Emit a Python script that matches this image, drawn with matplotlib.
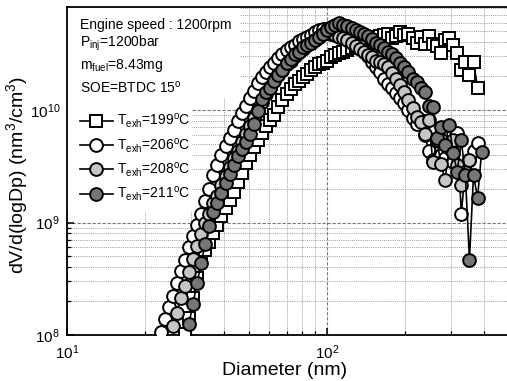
import numpy as np
import matplotlib
matplotlib.use("Agg")
import matplotlib.pyplot as plt
from matplotlib.patches import Rectangle
from matplotlib.ticker import NullFormatter

plt.rcParams["font.family"] = ["Liberation Sans", "DejaVu Sans"]
plt.rcParams["mathtext.fontset"] = "custom"
plt.rcParams["mathtext.rm"] = "Liberation Sans"
plt.rcParams["mathtext.it"] = "Liberation Sans:italic"
plt.rcParams["mathtext.bf"] = "Liberation Sans:bold"

# SMPS channel mid-point diameters (nm), 64 channels per decade
diameter_nm = [
    22.88, 23.71, 24.58, 25.48, 26.42, 27.38, 28.39, 29.43, 30.51, 31.62,
    32.78, 33.98, 35.22, 36.52, 37.86, 39.24, 40.68, 42.17, 43.71, 45.31,
    46.97, 48.70, 50.48, 52.33, 54.25, 56.23, 58.29, 60.43, 62.64, 64.94,
    67.32, 69.78, 72.34, 74.99, 77.74, 80.58, 83.54, 86.60, 89.77, 93.06,
    96.47, 100.0, 103.7, 107.5, 111.4, 115.5, 119.7, 124.1, 128.6, 133.4,
    138.2, 143.3, 148.6, 154.0, 159.6, 165.5, 171.5, 177.8, 184.3, 191.1,
    198.1, 205.4, 212.9, 220.7, 228.8, 237.1, 245.8, 254.8, 264.2, 273.8,
    283.9, 294.3, 305.1, 316.2, 327.8, 339.8, 352.3, 365.2, 378.6, 392.4,
]

# log10 of dV/d(logDp) [nm^3/cm^3] for each exhaust temperature
log_dv_199 = [
    8.01, 8.15, 8.33, 8.51, 8.67, 8.76, 8.83, 8.91, 8.98, 9.06,
    9.13, 9.20, 9.27, 9.36, 9.44, 9.53, 9.60, 9.67, 9.73, 9.80,
    9.86, 9.91, 9.96, 10.03, 10.09, 10.14, 10.19, 10.23, 10.26, 10.29,
    10.32, 10.36, 10.38, 10.41, 10.42, 10.44, 10.47, 10.49, 10.51, 10.52,
    10.53, 10.55, 10.57, 10.59, 10.60, 10.62, 10.64, 10.65, 10.66, 10.67,
    10.68, 10.64, 10.66, 10.69, 10.67, 10.68, 10.64, 10.60, 10.65, 10.59,
    10.66, 10.59, 10.57, 10.51, 10.62, 10.64, 10.58, 10.51, 10.36, 10.43,
    10.31, 10.43, 10.20,
]
log_dv_206 = [
    8.03, 8.14, 8.25, 8.35, 8.46, 8.57, 8.67, 8.78, 8.88, 8.98,
    9.08, 9.19, 9.30, 9.42, 9.51, 9.60, 9.68, 9.75, 9.82, 9.90,
    9.97, 10.04, 10.11, 10.17, 10.24, 10.29, 10.34, 10.38, 10.42, 10.46,
    10.50, 10.53, 10.56, 10.58, 10.61, 10.63, 10.65, 10.67, 10.69, 10.71,
    10.72, 10.72, 10.73, 10.73, 10.73, 10.72, 10.70, 10.67, 10.62, 10.58,
    10.53, 10.48, 10.43, 10.38, 10.34, 10.28, 10.23, 10.20, 10.15, 10.11,
    10.06, 10.00, 9.93, 9.88, 9.91, 9.78, 9.64, 9.56, 9.73, 9.60,
    9.57, 9.82, 9.54, 9.80, 9.08, 9.47, 9.56, 9.64, 9.71,
]
log_dv_208 = [
    8.08, 8.20, 8.33, 8.44, 8.56, 8.68, 8.79, 8.90, 9.00, 9.08,
    9.17, 9.24, 9.33, 9.41, 9.49, 9.57, 9.64, 9.72, 9.79, 9.86,
    9.93, 10.00, 10.07, 10.14, 10.20, 10.27, 10.32, 10.36, 10.41, 10.44,
    10.48, 10.52, 10.54, 10.58, 10.60, 10.62, 10.65, 10.68, 10.69, 10.68,
    10.67, 10.65, 10.64, 10.62, 10.60, 10.57, 10.54, 10.52, 10.49, 10.47,
    10.44, 10.43, 10.41, 10.38, 10.33, 10.28, 10.22, 10.16, 10.09, 10.02,
    9.94, 9.89, 9.79, 9.91, 9.54, 9.73, 9.52, 9.38, 9.66, 9.73,
    9.51, 9.33, 9.45, 9.56,
]
log_dv_211 = [
    8.10, 8.28, 8.46, 8.64, 8.81, 8.97, 9.09, 9.17, 9.26, 9.35,
    9.43, 9.51, 9.59, 9.65, 9.72, 9.79, 9.88, 9.99, 10.10, 10.16,
    10.20, 10.26, 10.31, 10.36, 10.42, 10.45, 10.50, 10.52, 10.56, 10.58,
    10.60, 10.62, 10.65, 10.68, 10.71, 10.74, 10.76, 10.77, 10.76, 10.75,
    10.73, 10.71, 10.69, 10.68, 10.66, 10.63, 10.60, 10.58, 10.55, 10.52,
    10.50, 10.46, 10.42, 10.38, 10.34, 10.28, 10.25, 10.20, 10.16, 10.04,
    10.03, 9.75, 9.85, 9.69, 9.87, 9.62, 9.45, 9.73, 9.42, 8.67,
    9.42, 9.22, 9.63,
]

# channel range covered by each measurement
d_199 = diameter_nm[6:79]
d_206 = diameter_nm[0:79]
d_208 = diameter_nm[3:77]
d_211 = diameter_nm[7:80]

labels = [
    r"T$_{\rm exh}$=199$^{\rm o}$C",
    r"T$_{\rm exh}$=206$^{\rm o}$C",
    r"T$_{\rm exh}$=208$^{\rm o}$C",
    r"T$_{\rm exh}$=211$^{\rm o}$C",
]

W, H = 507, 381
fig = plt.figure(figsize=(W / 100, H / 100), dpi=100)
ax = fig.add_axes([67 / W, 46 / H, 442 / W, 328 / H])
ax.set_xscale("log")
ax.set_yscale("log")
ax.set_xlim(10, 500)
ax.set_ylim(1e8, 10 ** 10.916)

series = [
    (d_199, log_dv_199, "s", "white", 8.2),
    (d_206, log_dv_206, "o", "white", 9.2),
    (d_208, log_dv_208, "o", "#c6c6c6", 9.2),
    (d_211, log_dv_211, "o", "#767676", 9.2),
]
handles = []
for (d, lv, mk, fc, ms), lab in zip(series, labels):
    h, = ax.plot(d, 10 ** np.array(lv), color="black", lw=1.2, marker=mk,
                 ms=ms, mfc=fc, mec="black", mew=1.4, label=lab, zorder=3)
    handles.append(h)

# grid
ax.set_axisbelow(True)
ax.grid(True, which="major", ls=(0, (3, 1.5)), color="#7a7a7a", lw=0.8)
ax.grid(True, which="minor", ls=(0, (1, 1.2)), color="#9a9a9a", lw=0.7)

# white panels behind the annotation block and legend
ax.add_patch(Rectangle((0, 0.7226), 0.391, 0.2774, transform=ax.transAxes,
                       facecolor="white", edgecolor="none", zorder=1))
ax.add_patch(Rectangle((0, 0.375), 0.283, 0.35, transform=ax.transAxes,
                       facecolor="white", edgecolor="none", zorder=1))

# spines and ticks
for s in ("left", "bottom", "top", "right"):
    ax.spines[s].set_linewidth(1.3)
ax.tick_params(which="both", direction="in", top=False, right=False)
ax.tick_params(which="major", length=5, width=1.1, labelsize=11)
ax.tick_params(axis="x", which="major", pad=6)
ax.tick_params(axis="y", which="major", pad=5)
ax.tick_params(which="minor", length=3, width=0.9)
ax.xaxis.set_minor_formatter(NullFormatter())
ax.yaxis.set_minor_formatter(NullFormatter())

ax.set_xlabel("Diameter (nm)", fontsize=14)
ax.set_ylabel(r"dV/d(logDp) (nm$^3$/cm$^3$)", fontsize=14)
ax.xaxis.set_label_coords(0.493, -0.082)
ax.yaxis.set_label_coords(-0.084, 0.488)

# operating conditions
tx = 0.029
info = [
    (0.945, "Engine speed : 1200rpm"),
    (0.890, r"P$_{\rm inj}$=1200bar"),
    (0.823, r"m$_{\rm fuel}$=8.43mg"),
    (0.753, r"SOE=BTDC 15$^{\rm o}$"),
]
for y, t in info:
    ax.text(tx, y, t, transform=ax.transAxes, fontsize=10, va="center",
            ha="left", zorder=4)

ax.legend(handles=handles, loc="upper left", bbox_to_anchor=(0.029, 0.68),
          frameon=False, fontsize=10, handlelength=2.37, handletextpad=0.3,
          labelspacing=0.43, borderpad=0, borderaxespad=0)

fig.savefig("out.png", dpi=100)
